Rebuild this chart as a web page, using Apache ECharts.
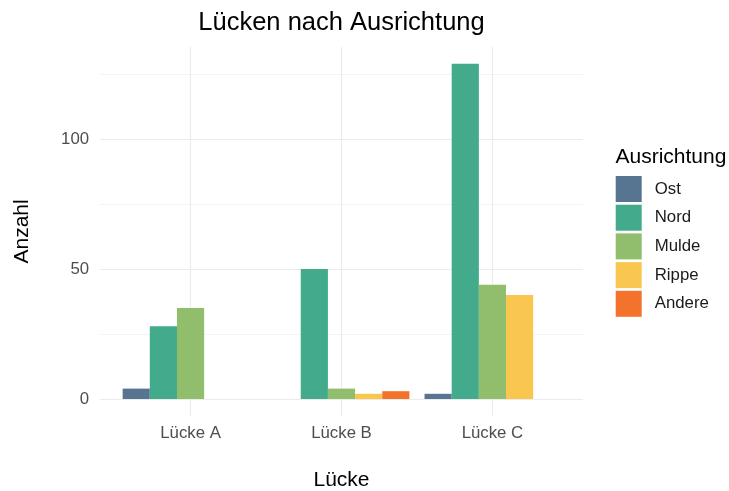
<!DOCTYPE html>
<html>
<head>
<meta charset="utf-8">
<script src="https://cdn.jsdelivr.net/npm/echarts@6/dist/echarts.min.js"></script>
<style>html,body{margin:0;padding:0;background:#fff}#c{width:729px;height:491px}</style>
</head>
<body>
<div id="c"></div>
<script>
// ---- data ----
const categories = ['Lücke A', 'Lücke B', 'Lücke C'];
const seriesNames = ['Ost', 'Nord', 'Mulde', 'Rippe', 'Andere'];
const ost    = [4, null, 2];
const nord   = [28, 50, 129];
const mulde  = [35, 4, 44];
const rippe  = [null, 2, 40];
const andere = [null, 3, null];
const yTicks = [0, 50, 100];
const yMinor = [25, 75, 125];
const xPositions = [1, 2, 3];

const colors = ['#577590', '#43AA8B', '#90BE6D', '#F9C74F', '#F3722C'];
const values = [ost, nord, mulde, rippe, andere];

const FONT = 'Liberation Sans, Arial, sans-serif';
const GRID_COL = '#EBEBEB';

// panel geometry
const panelLeft = 100, panelRight = 583, panelTop = 47, panelBottom = 415.8;
const yZero = 399;
const yMax = 135.45, yMin = -6.45;
const xLo = 0.4, xHi = 3.6;
const unit = (panelRight - panelLeft) / (xHi - xLo);
const barGridLeft = panelLeft + (0.5 - xLo) * unit;
const barGridRight = panelRight - (xHi - 3.5) * unit;

const chart = echarts.init(document.getElementById('c'), null, {renderer: 'canvas'});

const gridLines = [];
xPositions.forEach(v => gridLines.push({xAxis: v, lineStyle: {color: GRID_COL, width: 1.1, type: 'solid'}}));
yTicks.forEach(v => gridLines.push({yAxis: v, lineStyle: {color: GRID_COL, width: 1.1, type: 'solid'}}));
yMinor.forEach(v => gridLines.push({yAxis: v, lineStyle: {color: GRID_COL, width: 0.6, type: 'solid'}}));

const barSeries = seriesNames.map((n, i) => ({
  name: n,
  type: 'bar',
  xAxisIndex: 1,
  yAxisIndex: 1,
  data: values[i],
  barGap: '0%',
  barCategoryGap: '10%',
  itemStyle: {color: colors[i]},
  z: 10
}));

chart.setOption({
  animation: false,
  backgroundColor: '#ffffff',
  grid: [
    {left: panelLeft, width: panelRight - panelLeft, top: panelTop, height: panelBottom - panelTop, containLabel: false},
    {left: barGridLeft, width: barGridRight - barGridLeft, top: panelTop, height: yZero - panelTop, containLabel: false}
  ],
  xAxis: [
    {type: 'value', gridIndex: 0, min: xLo, max: xHi, show: false},
    {type: 'category', gridIndex: 1, data: categories,
     axisLine: {show: false}, axisTick: {show: false}, splitLine: {show: false},
     axisLabel: {color: '#4D4D4D', fontSize: 16.8, fontFamily: FONT, margin: 26}}
  ],
  yAxis: [
    {type: 'value', gridIndex: 0, min: yMin, max: yMax, show: false},
    {type: 'value', gridIndex: 1, min: 0, max: yMax, interval: 50,
     axisLine: {show: false}, axisTick: {show: false}, splitLine: {show: false},
     axisLabel: {color: '#4D4D4D', fontSize: 16.8, fontFamily: FONT, margin: 26, showMaxLabel: false,
       formatter: v => (yTicks.indexOf(v) >= 0 ? String(v) : '')}}
  ],
  legend: {
    orient: 'vertical',
    left: 615.7,
    top: 176,
    padding: 0,
    itemWidth: 26,
    itemHeight: 26,
    itemGap: 2.7,
    icon: 'rect',
    data: seriesNames,
    textStyle: {color: '#1A1A1A', fontSize: 16.8, fontFamily: FONT, padding: [0, 0, 0, 8]},
    selectedMode: false
  },
  series: [
    {
      type: 'line', xAxisIndex: 0, yAxisIndex: 0, data: [[1, 0]], symbol: 'none', silent: true,
      lineStyle: {opacity: 0}, z: 0,
      markLine: {silent: true, z: 0, symbol: ['none', 'none'], label: {show: false}, animation: false, data: gridLines}
    }
  ].concat(barSeries),
  graphic: [
    {type: 'text', x: (panelLeft + panelRight) / 2, y: 23,
     style: {text: 'Lücken nach Ausrichtung', font: '25.5px ' + FONT, fill: '#000', textAlign: 'center', textVerticalAlign: 'middle'}},
    {type: 'text', x: (panelLeft + panelRight) / 2, y: 480,
     style: {text: 'Lücke', font: '21px ' + FONT, fill: '#000', textAlign: 'center', textVerticalAlign: 'middle'}},
    {type: 'text', x: 22, y: (panelTop + panelBottom) / 2, rotation: Math.PI / 2,
     style: {text: 'Anzahl', font: '21px ' + FONT, fill: '#000', textAlign: 'center', textVerticalAlign: 'middle'}},
    {type: 'text', x: 615.5, y: 157,
     style: {text: 'Ausrichtung', font: '21px ' + FONT, fill: '#000', textAlign: 'left', textVerticalAlign: 'middle'}}
  ]
});
</script>
</body>
</html>
